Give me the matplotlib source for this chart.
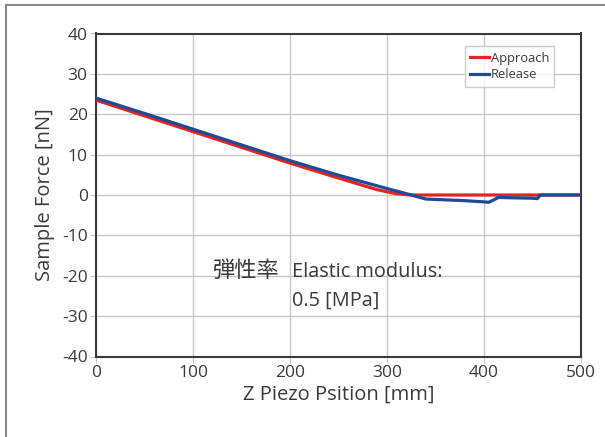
import matplotlib
matplotlib.use('Agg')
import matplotlib.pyplot as plt
from matplotlib.lines import Line2D

plt.rcParams['font.family'] = ['Open Sans', 'Noto Sans CJK JP', 'DejaVu Sans']
plt.rcParams['axes.unicode_minus'] = False

# Approach curve (Z piezo [mm] vs force [nN])
approach_x = [0, 50, 100, 150, 200, 250, 290, 310, 325, 350, 400, 450, 500]
approach_y = [23.5, 19.6, 15.7, 11.8, 7.9, 4.2, 1.3, 0.3, 0.0, 0.0, 0.0, 0.0, 0.0]

# Release curve
release_x = [0, 50, 100, 150, 200, 250, 300, 325, 340, 360, 380, 400, 405,
             415, 430, 450, 455, 458, 500]
release_y = [24.0, 20.2, 16.3, 12.4, 8.5, 4.9, 1.6, 0.0, -1.0, -1.2, -1.4, -1.7, -1.8,
             -0.6, -0.7, -0.8, -0.9, 0.0, 0.0]

xticks = [0, 100, 200, 300, 400, 500]
yticks = [-40, -30, -20, -10, 0, 10, 20, 30, 40]

txt = '#3a3a3a'

fig = plt.figure(figsize=(6.05, 4.37), dpi=100)
ax = fig.add_axes([96/605, 1 - 356.5/437, (581-96)/605, (356.5-33.5)/437])

ax.plot(approach_x, approach_y, color='#e5231f', lw=2.3, label='Approach', zorder=3)
ax.plot(release_x, release_y, color='#1f4a9a', lw=2.3, label='Release', zorder=4)

ax.set_xlim(0, 500)
ax.set_ylim(-40, 40)
ax.set_xticks(xticks)
ax.set_yticks(yticks)
ax.grid(True, color='#c8c8c8', lw=1)
ax.set_axisbelow(True)
for s in ax.spines.values():
    s.set_color('#3a3a3a')
    s.set_linewidth(1.5)
ax.tick_params(length=4, color='#c8c8c8', labelsize=12.5, labelcolor=txt, pad=2)

ax.set_xlabel('Z Piezo Psition [mm]', fontsize=14.5, color=txt, labelpad=3)
ax.set_ylabel('Sample Force [nN]', fontsize=14.5, color=txt, labelpad=5)

leg = ax.legend(loc='upper right', bbox_to_anchor=(0.945, 0.96), fontsize=9.3,
                frameon=True, fancybox=False, handlelength=1.5, handletextpad=0.1,
                borderpad=0.4, labelspacing=0.3, borderaxespad=0)
leg.get_frame().set_edgecolor('#c0c0c0')
leg.get_frame().set_linewidth(1)
for t in leg.get_texts():
    t.set_color(txt)

ax.text(120, -20.2, '弾性率', fontsize=16, color=txt, ha='left', va='baseline',
        family=['Noto Sans CJK JP'])
ax.text(202, -20.2, 'Elastic modulus:', fontsize=14.3, color=txt, ha='left', va='baseline')
ax.text(202, -27.4, '0.5 [MPa]', fontsize=14.3, color=txt, ha='left', va='baseline')

# outer frame (top and left edges visible)
fig.add_artist(Line2D([6/605, 6/605], [0, 1 - 5/437], transform=fig.transFigure,
                      color='#888888', lw=1.5))
fig.add_artist(Line2D([6/605, 1], [1 - 5/437, 1 - 5/437], transform=fig.transFigure,
                      color='#888888', lw=1.5))

fig.savefig('out.png', dpi=100)
